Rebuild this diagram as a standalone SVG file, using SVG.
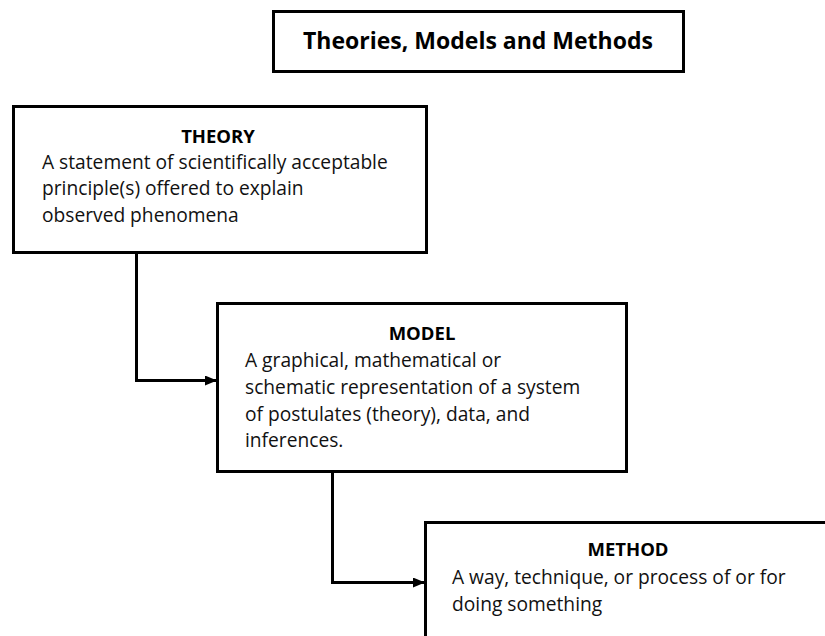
<svg xmlns="http://www.w3.org/2000/svg" width="825" height="636" viewBox="0 0 825 636">
<defs>
<style>
.box{fill:#fff;stroke:#000;stroke-width:3}
.title{font-family:"Open Sans","Liberation Sans",sans-serif;font-weight:bold;font-size:23px;fill:#000}
.head{font-family:"Open Sans","Liberation Sans",sans-serif;font-weight:bold;font-size:18.5px;fill:#000}
.body{font-family:"Open Sans","Liberation Sans",sans-serif;font-size:19.2px;fill:#111}
.conn{fill:none;stroke:#000;stroke-width:3}
</style>
<marker id="arrow" markerWidth="12" markerHeight="10" refX="11" refY="5" orient="auto" markerUnits="userSpaceOnUse">
<path d="M0,0 L12,5 L0,10 Z" fill="#000"/>
</marker>
</defs>
<rect width="825" height="636" fill="#fff"/>
<g id="title">
<rect class="box" x="273.500" y="11.500" width="410" height="60"/>
<text class="title" x="478" y="49" text-anchor="middle">Theories, Models and Methods</text>
</g>
<g id="theory">
<rect class="box" x="13.500" y="106.500" width="413" height="146"/>
<text class="head" x="218" y="143" text-anchor="middle">THEORY</text>
<text class="body" x="42" y="169">A statement of scientifically acceptable</text>
<text class="body" x="42" y="195">principle(s) offered to explain</text>
<text class="body" x="42" y="222">observed phenomena</text>
</g>
<g id="model">
<rect class="box" x="217.500" y="303.500" width="409" height="168"/>
<text class="head" x="422" y="340" text-anchor="middle">MODEL</text>
<text class="body" x="245" y="367">A graphical, mathematical or</text>
<text class="body" x="245" y="394">schematic representation of a system</text>
<text class="body" x="245" y="421">of postulates (theory), data, and</text>
<text class="body" x="245" y="447">inferences.</text>
</g>
<g id="method">
<rect class="box" x="425.500" y="522.500" width="420" height="140"/>
<text class="head" x="628" y="556" text-anchor="middle">METHOD</text>
<text class="body" x="452" y="584">A way, technique, or process of or for</text>
<text class="body" x="452" y="611">doing something</text>
</g>
<g id="connectors">
<path class="conn" d="M136.500,253 V380.500 H216" marker-end="url(#arrow)"/>
<path class="conn" d="M332.500,472 V582.500 H424" marker-end="url(#arrow)"/>
</g>
</svg>
